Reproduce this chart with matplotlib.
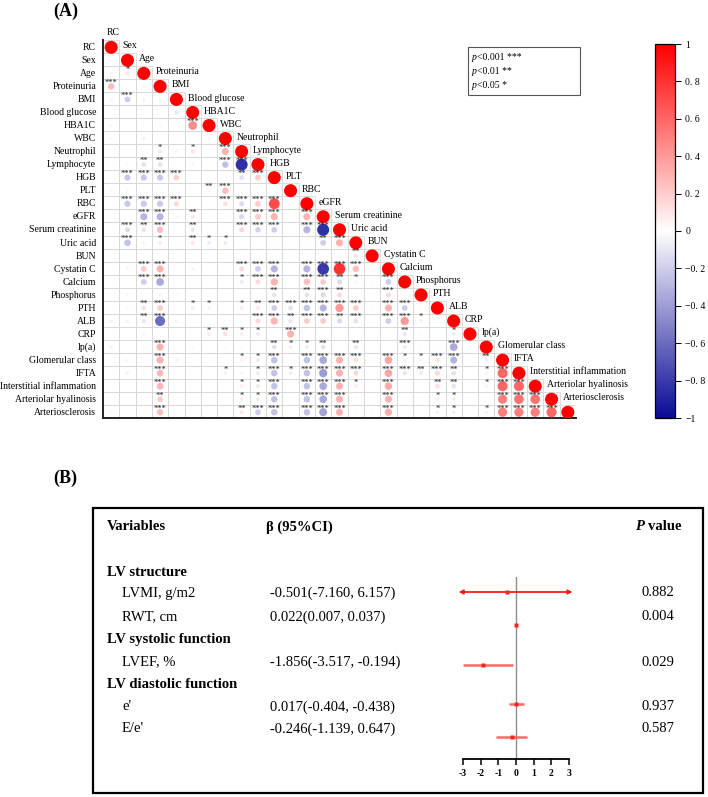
import matplotlib.pyplot as plt
import matplotlib as mpl
import numpy as np
from matplotlib.colors import LinearSegmentedColormap, Normalize
from matplotlib.patches import Rectangle

plt.rcParams["font.family"] = ["Liberation Serif", "DejaVu Serif"]

W, H = 708, 797

# ---- panel A data: lower triangle of the correlation matrix ----
variables = ["RC", "Sex", "Age", "Proteinuria", "BMI", "Blood glucose", "HBA1C", "WBC",
             "Neutrophil", "Lymphocyte", "HGB", "PLT", "RBC", "eGFR", "Serum creatinine",
             "Uric acid", "BUN", "Cystatin C", "Calcium", "Phosphorus", "PTH", "ALB", "CRP",
             "lp(a)", "Glomerular class", "IFTA", "Interstitial inflammation",
             "Arteriolar hyalinosis", "Arteriosclerosis"]

corr_rows = [
    [0.02],
    [-0.05, 0.10],
    [0.25, 0.02, 0.05],
    [0.05, -0.20, -0.06, 0.05],
    [0.02, 0.02, 0.03, 0.02, -0.10],
    [-0.04, 0.02, 0.03, 0.05, 0.02, 0.45],
    [0.04, 0.02, -0.06, 0.02, 0.02, 0.02, 0.05],
    [0.02, 0.02, 0.02, 0.10, -0.05, 0.10, 0.03, 0.30],
    [0.02, 0.04, -0.12, -0.12, 0.02, -0.04, 0.02, -0.25, -0.85],
    [0.02, -0.22, -0.22, -0.22, 0.18, 0.02, 0.02, 0.03, -0.12, 0.20],
    [0.04, 0.04, 0.02, 0.02, 0.02, 0.02, 0.05, 0.25, 0.03, 0.03, 0.02],
    [0.02, -0.22, -0.22, -0.22, 0.15, 0.02, 0.02, 0.12, -0.15, 0.20, 0.70, 0.03],
    [0.02, 0.02, -0.30, -0.30, 0.04, 0.10, 0.02, 0.03, -0.15, 0.20, 0.30, 0.02, 0.30],
    [0.02, -0.15, 0.12, 0.25, 0.02, -0.10, 0.02, 0.02, 0.15, -0.18, -0.20, 0.02, -0.30, -0.85],
    [0.02, -0.25, -0.05, 0.08, 0.03, 0.10, -0.08, -0.08, 0.02, 0.02, 0.03, 0.02, 0.03, -0.20, 0.30],
    [0.02, -0.03, 0.02, 0.02, 0.02, 0.02, 0.02, 0.03, 0.02, 0.02, 0.02, 0.02, 0.02, 0.02, 0.03, -0.10],
    [0.02, -0.04, 0.20, 0.30, 0.02, -0.06, 0.02, 0.02, 0.15, -0.20, -0.30, 0.02, -0.30, -0.80, 0.80,
     0.25, 0.03],
    [0.02, 0.02, -0.20, -0.35, 0.02, 0.03, 0.02, 0.02, -0.08, 0.15, 0.30, 0.02, 0.25, 0.20, -0.15,
     0.06, 0.03, -0.20],
    [0.02, 0.05, 0.02, 0.06, -0.03, 0.02, 0.02, 0.02, 0.02, 0.02, -0.12, 0.02, -0.12, -0.15, 0.15,
     0.03, 0.02, 0.15, 0.02],
    [0.02, -0.03, 0.12, 0.20, 0.02, -0.08, -0.06, 0.02, 0.08, 0.10, -0.20, -0.12, -0.25, -0.30, 0.40,
     0.20, 0.03, 0.30, -0.20, 0.03],
    [-0.06, -0.06, -0.10, -0.60, 0.06, 0.02, 0.02, 0.02, 0.02, 0.15, 0.30, -0.10, 0.20, 0.20, -0.15,
     -0.12, 0.03, -0.20, 0.40, -0.06, 0.02],
    [0.02, 0.02, 0.05, 0.02, 0.02, 0.02, 0.08, 0.12, 0.08, -0.08, 0.02, 0.30, 0.02, 0.02, 0.02,
     0.02, 0.02, 0.02, -0.10, -0.03, 0.02, -0.08],
    [0.06, 0.02, 0.03, 0.30, 0.02, -0.03, 0.02, -0.03, -0.03, 0.02, -0.12, 0.08, -0.08, -0.12, 0.02,
     -0.10, 0.02, 0.02, -0.08, -0.03, -0.03, -0.35, 0.02],
    [0.02, -0.04, 0.02, 0.30, -0.05, 0.02, 0.03, 0.02, 0.07, -0.08, -0.25, 0.02, -0.25, -0.35, 0.30,
     0.12, 0.03, 0.35, -0.06, 0.06, 0.12, -0.30, 0.02, 0.08],
    [0.02, -0.06, 0.02, 0.28, 0.02, 0.02, 0.02, -0.07, 0.05, -0.08, -0.25, -0.07, -0.25, -0.40, 0.30,
     0.15, 0.02, 0.35, -0.10, -0.08, 0.15, -0.12, 0.02, 0.06, 0.60],
    [0.02, 0.02, 0.02, 0.28, 0.02, 0.02, 0.02, 0.02, 0.07, -0.08, -0.25, 0.02, -0.25, -0.35, 0.30,
     0.08, 0.02, 0.33, 0.03, 0.02, 0.12, -0.12, 0.02, 0.06, 0.60, 0.60],
    [0.02, 0.02, 0.02, 0.20, 0.02, 0.03, 0.02, 0.02, 0.07, -0.08, -0.25, 0.02, -0.25, -0.35, 0.30,
     0.03, 0.02, 0.30, 0.02, 0.02, 0.07, -0.07, 0.02, 0.02, 0.50, 0.55, 0.55],
    [-0.03, 0.02, 0.02, 0.25, 0.02, 0.02, 0.02, 0.02, 0.10, -0.20, -0.25, 0.02, -0.25, -0.38, 0.30,
     0.03, 0.03, 0.32, 0.02, 0.02, 0.07, -0.07, 0.02, 0.06, 0.50, 0.50, 0.50, 0.60],
]

# number of stars per cell (0 = not significant)
sig_rows = [
    "0", "01", "300", "0300", "00000", "000003", "0000000", "00010103", "002200033",
    "0333300023", "00000023000", "033330033330", "0033020033303", "03230200333033",
    "030102110000023", "0000000000000002", "00330000333033330", "003300001330332103",
    "0000000000202320030", "00230110123333330330", "002300000332332303310",
    "0000001211030000002001", "00030000002112020030030", "000300001130333303113302",
    "0003000101313333033232013", "00030000113033310300220133",
    "000200001130333003001100333", "0003000023303330030011013333",
]

sig_legend = ["<0.001 ***", "<0.01 **", "<0.05 *"]
cbar_ticks = [1, 0.8, 0.6, 0.4, 0.2, 0, -0.2, -0.4, -0.6, -0.8, -1]
cbar_labels = ["1", "0. 8", "0. 6", "0. 4", "0. 2", "0", "\u22120. 2", "\u22120. 4", "\u22120. 6",
               "\u22120. 8", "\u22121"]

# ---- panel B data ----
groups = ["LV structure", "LV systolic function", "LV diastolic function"]
outcomes = ["LVMI, g/m2", "RWT, cm", "LVEF, %", "e'", "E/e'"]
beta = [-0.501, 0.022, -1.856, 0.017, -0.246]
ci_low = [-7.160, 0.007, -3.517, -0.404, -1.139]
ci_high = [6.157, 0.037, -0.194, 0.438, 0.647]
beta_text = ["-0.501(-7.160, 6.157)", "0.022(0.007, 0.037)", "-1.856(-3.517, -0.194)",
             "0.017(-0.404, -0.438)", "-0.246(-1.139, 0.647)"]
p_values = ["0.882", "0.004", "0.029", "0.937", "0.587"]
forest_ticks = [-3, -2, -1, 0, 1, 2, 3]


def fbox(x0, y0, x1, y1):
    return [x0 / W, 1 - y1 / H, (x1 - x0) / W, (y1 - y0) / H]


def ftext(x, y, s, **kw):
    return fig.text(x / W, 1 - y / H, s, **kw)


fig = plt.figure(figsize=(W / 100, H / 100), dpi=100)

cmap = LinearSegmentedColormap.from_list("rwb", ["#0a0a96", "#ffffff", "#ff0000"])
norm = Normalize(-1, 1)

# ================= panel A =================
n = len(variables)
ax = fig.add_axes(fbox(103, 40, 576, 418))
ax.set_xlim(-0.5, n - 0.5)
ax.set_ylim(n - 0.5, -0.5)

xs, ys, vals = [], [], []
for i in range(n):
    row = corr_rows[i - 1] if i > 0 else []
    stars = sig_rows[i - 1] if i > 0 else ""
    for j in range(i + 1):
        ax.add_patch(Rectangle((j - 0.5, i - 0.5), 1, 1, fill=False, ec="#d8d8d8", lw=0.6, zorder=1))
        r = 1.0 if j == i else row[j]
        xs.append(j)
        ys.append(i + 0.06)
        vals.append(r)
        if j < i and stars[j] != "0":
            ax.text(j, i - 0.22, "*" * int(stars[j]), ha="center", va="center", fontsize=6,
                    color="#1a1a1a", zorder=4)

vals = np.array(vals)
ax.scatter(xs, ys, s=88 * np.abs(vals), c=vals, cmap=cmap, norm=norm, lw=0, zorder=3)

ax.set_yticks(range(n), variables, fontsize=7)
ax.set_xticks([])
ax.tick_params(axis="y", length=0, pad=5)
for s in ["top", "right"]:
    ax.spines[s].set_visible(False)
for s in ["left", "bottom"]:
    ax.spines[s].set_linewidth(1.4)
    ax.spines[s].set_color("#222222")

# column labels along the diagonal
for j, name in enumerate(variables):
    ax.text(j - 0.3, j - 1.05, name, ha="left", va="center", fontsize=7, clip_on=False)

# significance legend
fig.add_artist(Rectangle((468 / W, 1 - 95 / H), 112 / W, 48 / H, transform=fig.transFigure,
                         fill=False, ec="#555555", lw=0.8))
for k, lab in enumerate(sig_legend):
    yy = 58 + 13.5 * k
    ftext(472, yy, "p", fontsize=7, style="italic", va="center")
    ftext(477, yy, lab, fontsize=7, va="center")

# colorbar
cax = fig.add_axes(fbox(655, 44, 675, 418))
cb = fig.colorbar(mpl.cm.ScalarMappable(norm=norm, cmap=cmap), cax=cax)
cb.set_ticks(cbar_ticks)
cb.set_ticklabels(cbar_labels)
cb.ax.tick_params(labelsize=7, length=4, width=0.7)
cb.outline.set_linewidth(0.9)

ftext(66, 11, "(A)", fontsize=13, weight="bold", ha="center", va="center")
ftext(65, 478, "(B)", fontsize=13, weight="bold", ha="center", va="center")

# ================= panel B =================
fig.add_artist(Rectangle((93 / W, 1 - 793 / H), 610 / W, 285 / H, transform=fig.transFigure,
                         fill=False, ec="black", lw=1.6))

fs = 10.5
ftext(107, 527, "Variables", fontsize=fs, weight="bold", va="center")
ftext(266, 527, "\u03b2 (95%CI)", fontsize=fs, weight="bold", va="center")
ftext(635, 527, "P", fontsize=fs, weight="bold", style="italic", va="center")
ftext(648, 527, "value", fontsize=fs, weight="bold", va="center")

group_y = [573, 639, 685]
row_y = [593, 617, 662, 707, 729]
for g, yy in zip(groups, group_y):
    ftext(107, yy, g, fontsize=fs, weight="bold", va="center")
for k in range(len(outcomes)):
    ftext(122, row_y[k], outcomes[k], fontsize=fs, va="center")
    ftext(270, row_y[k], beta_text[k], fontsize=fs, va="center")
    ftext(641, row_y[k], p_values[k], fontsize=fs, va="center")

# forest plot, y axis in figure pixels
forest_pos = [592, 625, 665, 704, 737]
axf = fig.add_axes(fbox(463, 577, 569, 759))
axf.set_xlim(-3, 3)
axf.set_ylim(759, 577)
axf.patch.set_alpha(0)
axf.axvline(0, color="#8c8c8c", lw=1.0, zorder=1)
for k in range(len(beta)):
    y = forest_pos[k]
    lo, hi = ci_low[k], ci_high[k]
    if lo < -3 and hi > 3:
        axf.annotate("", xy=(-3.25, y), xytext=(3.2, y),
                     arrowprops=dict(arrowstyle="<|-|>", color="#ff1a1a", lw=1.3,
                                     mutation_scale=6, shrinkA=0, shrinkB=0),
                     annotation_clip=False)
    else:
        axf.plot([max(lo, -3), min(hi, 3)], [y, y], color="#ff4d4d", lw=1.8, alpha=0.85,
                 solid_capstyle="butt", zorder=2)
    axf.plot([beta[k]], [y], marker="s", ms=3, color="#ff2020", mec="none", zorder=3)

axf.set_xticks(forest_ticks, [str(t) for t in forest_ticks])
axf.set_yticks([])
for s in ["top", "right", "left"]:
    axf.spines[s].set_visible(False)
axf.spines["bottom"].set_linewidth(1.3)
axf.tick_params(axis="x", length=4, width=1.1, labelsize=7, pad=3)
for lab in axf.get_xticklabels():
    lab.set_fontweight("bold")

fig.savefig("out.png", dpi=100)
